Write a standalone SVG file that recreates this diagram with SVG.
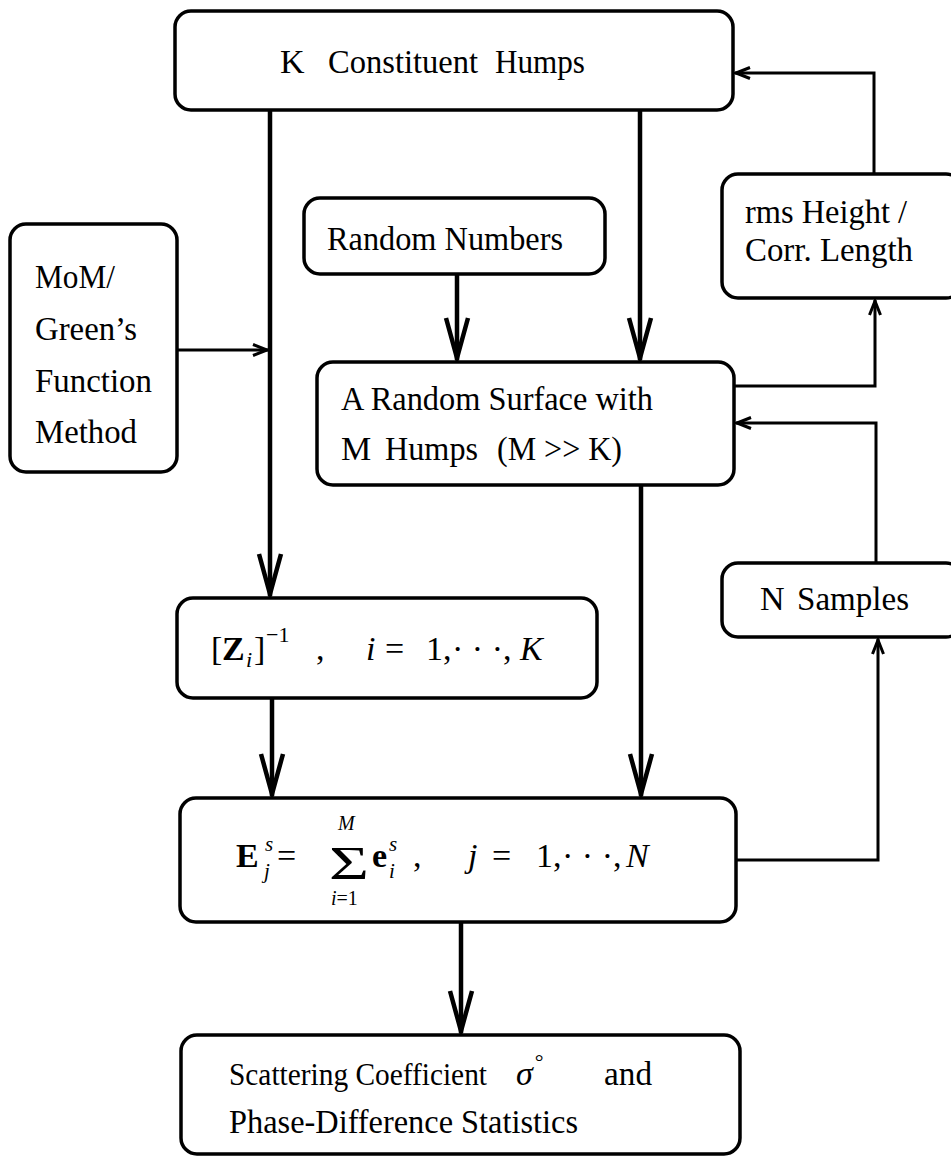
<svg xmlns="http://www.w3.org/2000/svg" width="951" height="1158" viewBox="0 0 951 1158">
<style>
.box{fill:#fff;stroke:#000;stroke-width:3.5}
.t{font-family:"Liberation Serif","Times New Roman",serif;font-size:34px;fill:#000}
.m{font-family:"Liberation Serif","Times New Roman",serif;fill:#000}
.thick{fill:none;stroke:#000;stroke-width:4.5}
.thin{fill:none;stroke:#000;stroke-width:3}
</style>
<defs>
<marker id="big" markerUnits="userSpaceOnUse" viewBox="-46 -16 50 32" markerWidth="50" markerHeight="32" refX="0" refY="0" orient="auto">
<path d="M-42,-11 L-2,0 L-42,11" fill="none" stroke="#000" stroke-width="4.5" stroke-linejoin="miter"/>
</marker>
<marker id="small" markerUnits="userSpaceOnUse" viewBox="-20 -10 24 20" markerWidth="24" markerHeight="20" refX="0" refY="0" orient="auto">
<path d="M-15,-5.5 L-1,0 L-15,5.5" fill="none" stroke="#000" stroke-width="3"/>
</marker>
</defs>

<g id="connectors">
<path class="thick" d="M270,110 V596" marker-end="url(#big)"/>
<path class="thin" d="M177,350 H268" marker-end="url(#small)"/>
<path class="thick" d="M640,110 V360" marker-end="url(#big)"/>
<path class="thick" d="M457,273 V360" marker-end="url(#big)"/>
<path class="thin" d="M734,386 H875 V300" marker-end="url(#small)"/>
<path class="thin" d="M874,173 V73 H735" marker-end="url(#small)"/>
<path class="thin" d="M876,563 V423 H736" marker-end="url(#small)"/>
<path class="thin" d="M737,860 H878 V639" marker-end="url(#small)"/>
<path class="thick" d="M272,698 V796" marker-end="url(#big)"/>
<path class="thick" d="M641,485 V796" marker-end="url(#big)"/>
<path class="thick" d="M461,922 V1033" marker-end="url(#big)"/>
</g>

<g id="k-humps">
<rect class="box" x="175" y="11" width="558" height="99" rx="16"/>
<text class="t" y="73"><tspan x="280">K</tspan><tspan x="328" textLength="150" lengthAdjust="spacingAndGlyphs">Constituent</tspan><tspan x="495" textLength="90" lengthAdjust="spacingAndGlyphs">Humps</tspan></text>
</g>

<g id="mom">
<rect class="box" x="10" y="224" width="167" height="248" rx="16"/>
<text class="t" x="35" y="288" textLength="80" lengthAdjust="spacingAndGlyphs">MoM/</text>
<text class="t" x="35" y="340" textLength="102" lengthAdjust="spacingAndGlyphs">Green’s</text>
<text class="t" x="35" y="392" textLength="117" lengthAdjust="spacingAndGlyphs">Function</text>
<text class="t" x="35" y="443" textLength="102" lengthAdjust="spacingAndGlyphs">Method</text>
</g>

<g id="random-numbers">
<rect class="box" x="304" y="198" width="301" height="76" rx="16"/>
<text class="t" x="327" y="250" textLength="236" lengthAdjust="spacingAndGlyphs">Random Numbers</text>
</g>

<g id="rms">
<rect class="box" x="722" y="174" width="240" height="124" rx="16"/>
<text class="t" x="745" y="223" textLength="162" lengthAdjust="spacingAndGlyphs">rms Height /</text>
<text class="t" x="745" y="261" textLength="168" lengthAdjust="spacingAndGlyphs">Corr. Length</text>
</g>

<g id="random-surface">
<rect class="box" x="317" y="362" width="417" height="123" rx="16"/>
<text class="t" x="341" y="410" textLength="312" lengthAdjust="spacingAndGlyphs">A Random Surface with</text>
<text class="t" y="460"><tspan x="341">M</tspan><tspan x="385" textLength="93" lengthAdjust="spacingAndGlyphs">Humps</tspan><tspan x="497" textLength="125" lengthAdjust="spacingAndGlyphs">(M &gt;&gt; K)</tspan></text>
</g>

<g id="zinv">
<rect class="box" x="177" y="598" width="420" height="100" rx="16"/>
<text class="m" font-size="34" x="211" y="660">[</text>
<text class="m" font-size="34" font-weight="bold" x="222" y="660">Z</text>
<text class="m" font-size="22" font-style="italic" x="246" y="667">i</text>
<text class="m" font-size="34" x="254" y="660">]</text>
<text class="m" font-size="22" x="266" y="642">−1</text>
<text class="m" font-size="34" x="316" y="660">,</text>
<text class="m" font-size="34" font-style="italic" x="366" y="660">i</text>
<text class="m" font-size="34" x="385" y="660">=</text>
<text class="m" font-size="34" x="426" y="660">1,</text>
<text class="m" font-size="34" x="452" y="660">· · ·,</text>
<text class="m" font-size="34" font-style="italic" x="520" y="660">K</text>
</g>

<g id="n-samples">
<rect class="box" x="722" y="563" width="240" height="74" rx="16"/>
<text class="t" y="610"><tspan x="760">N</tspan><tspan x="797" textLength="112" lengthAdjust="spacingAndGlyphs">Samples</tspan></text>
</g>

<g id="e-sum">
<rect class="box" x="180" y="798" width="556" height="124" rx="16"/>
<text class="m" font-size="34" font-weight="bold" x="236" y="867">E</text>
<text class="m" font-size="21" font-style="italic" x="265" y="851">s</text>
<text class="m" font-size="21" font-style="italic" x="264" y="878">j</text>
<text class="m" font-size="34" x="277" y="867">=</text>
<text class="m" font-size="46" x="329" y="879" textLength="40" lengthAdjust="spacingAndGlyphs">Σ</text>
<text class="m" font-size="20" font-style="italic" x="338" y="830">M</text>
<text class="m" font-size="20" x="331" y="905"><tspan font-style="italic">i</tspan>=1</text>
<text class="m" font-size="34" font-weight="bold" x="372" y="867">e</text>
<text class="m" font-size="21" font-style="italic" x="389" y="851">s</text>
<text class="m" font-size="21" font-style="italic" x="389" y="878">i</text>
<text class="m" font-size="34" x="413" y="867">,</text>
<text class="m" font-size="34" font-style="italic" x="468" y="867">j</text>
<text class="m" font-size="34" x="492" y="867">=</text>
<text class="m" font-size="34" x="536" y="867">1,</text>
<text class="m" font-size="34" x="562" y="867">· · ·,</text>
<text class="m" font-size="34" font-style="italic" x="626" y="867">N</text>
</g>

<g id="scattering">
<rect class="box" x="181" y="1035" width="559" height="119" rx="16"/>
<text class="t" x="229" y="1085" font-size="31" style="font-size:31px" textLength="258" lengthAdjust="spacingAndGlyphs">Scattering Coefficient</text>
<text class="m" font-size="34" x="516" y="1085"><tspan font-style="italic">σ</tspan><tspan font-size="22" dx="2" dy="-16">°</tspan></text>
<text class="t" x="604" y="1085" textLength="48" lengthAdjust="spacingAndGlyphs">and</text>
<text class="t" x="229" y="1133" textLength="349" lengthAdjust="spacingAndGlyphs">Phase-Difference Statistics</text>
</g>
</svg>
